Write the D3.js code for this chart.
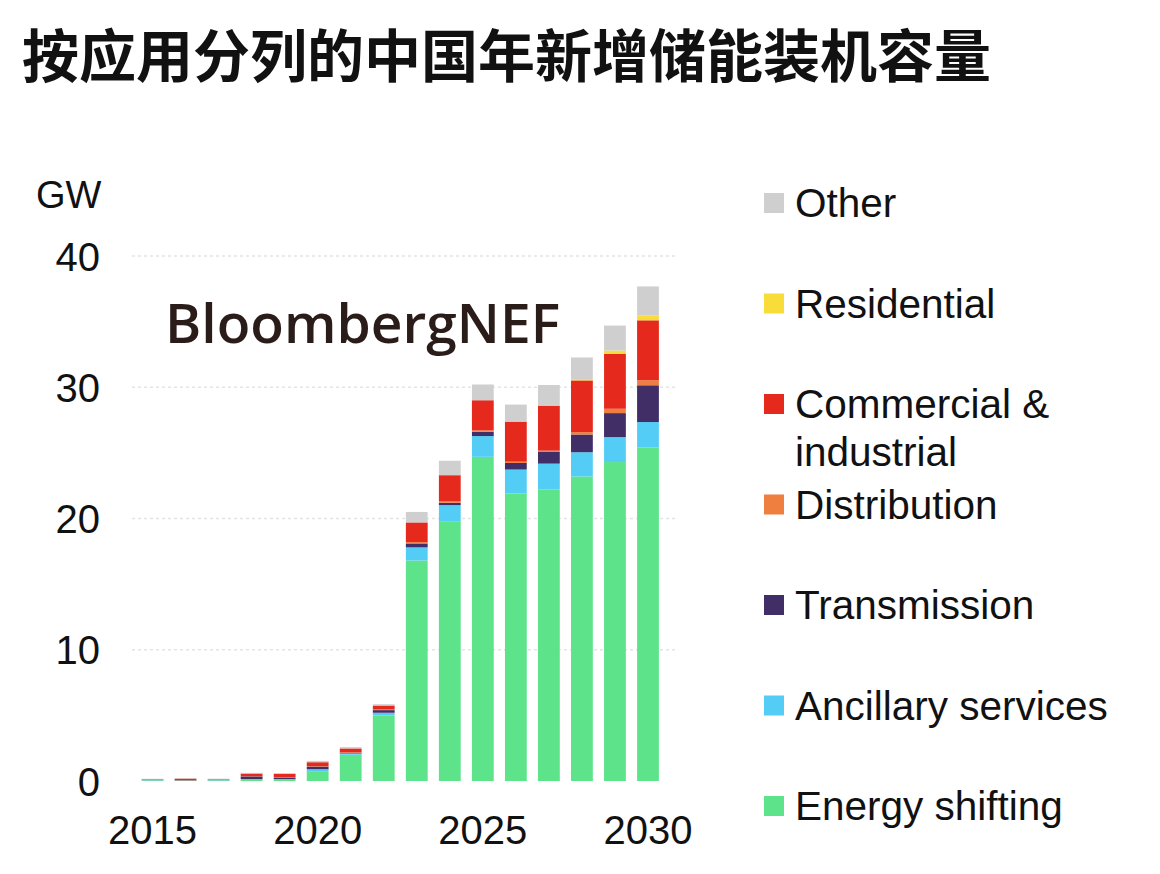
<!DOCTYPE html>
<html><head><meta charset="utf-8">
<script src="https://cdn.jsdelivr.net/npm/d3@7"></script>
<style>body{margin:0;background:#fff;} text{font-family:"Liberation Sans",Arial,sans-serif;}</style>
</head><body><svg id="c" width="1160" height="874"></svg>
<script>
const years = [2015,2016,2017,2018,2019,2020,2021,2022,2023,2024,2025,2026,2027,2028,2029,2030];
const energyShifting = [0.05,0.03,0.05,0.08,0.08,0.7,2.0,5.0,16.8,19.75,24.7,21.9,22.2,23.2,24.3,25.4];
const ancillary      = [0.02,0.01,0.02,0.07,0.07,0.2,0.1,0.2,1.0,1.27,1.58,1.83,1.98,1.85,1.9,1.95];
const transmission   = [0.02,0.02,0.02,0.2,0.1,0.2,0.05,0.2,0.3,0.18,0.33,0.5,0.89,1.35,1.83,2.8];
const distribution   = [0,0,0,0.02,0.02,0.03,0.03,0.05,0.1,0.1,0.1,0.1,0.1,0.18,0.33,0.38];
const commercial     = [0.04,0.12,0.04,0.2,0.28,0.3,0.3,0.3,1.5,2.0,2.3,3.05,3.43,3.94,4.19,4.57];
const residential    = [0,0,0,0,0,0,0,0,0,0,0,0,0.05,0.1,0.25,0.38];
const other          = [0.04,0.03,0.05,0.05,0.05,0.1,0.1,0.1,0.8,1.1,1.2,1.3,1.52,1.65,1.9,2.2];
const seriesNames = ["Energy shifting","Ancillary services","Transmission","Distribution","Commercial & industrial","Residential","Other"];
const seriesColors = ["#5de38a","#53cdf5","#412e67","#ef7f3f","#e52a1d","#f7dc3a","#cfcfcf"];
const yTicks = [0,10,20,30,40];
const xTickLabels = [2015,2020,2025,2030];

const seriesValues = [energyShifting,ancillary,transmission,distribution,commercial,residential,other];
const rows = years.map((y,i)=>{const r={year:y}; seriesNames.forEach((n,k)=>r[n]=seriesValues[k][i]); return r;});
const stack = d3.stack().keys(seriesNames)(rows);

const svg = d3.select("#c");
const x = d3.scaleBand().domain(years).range([136,664.5]).paddingInner(0.34).paddingOuter(0.17);
const y = d3.scaleLinear().domain([0,40]).range([781,256]);

// title
svg.append("text").attr("x",22).attr("y",52).attr("dominant-baseline","central")
  .style("font-family","'Noto Sans CJK SC',sans-serif").style("font-weight","700")
  .style("font-size","57px").attr("fill","#111").text("按应用分列的中国年新增储能装机容量");

// grid
svg.append("g").selectAll("line").data(yTicks.filter(t=>t>0)).join("line")
  .attr("x1",132).attr("x2",675).attr("y1",d=>y(d)).attr("y2",d=>y(d))
  .attr("stroke","#e4e4e4").attr("stroke-width",1.5).attr("stroke-dasharray","3,3");

// y axis labels
const yAxis = d3.axisLeft(y).tickValues(yTicks).tickSize(0).tickPadding(0);
const gy = svg.append("g").attr("transform","translate(100,0)").call(yAxis);
gy.select(".domain").remove();
gy.selectAll("text").style("font-size","40px").style("font-family","'Liberation Sans',Arial,sans-serif").attr("fill","#111").attr("dy","0.35em");

svg.append("text").attr("x",36).attr("y",195).attr("dominant-baseline","central")
  .style("font-size","38px").attr("fill","#111").text("GW");

// bars
svg.append("g").selectAll("g").data(stack).join("g").attr("fill",(d,i)=>seriesColors[i])
  .selectAll("rect").data(d=>d).join("rect")
  .attr("x",d=>x(d.data.year)).attr("width",x.bandwidth())
  .attr("y",d=>y(d[1])).attr("height",d=>Math.max(0,y(d[0])-y(d[1])));

// x axis labels
const xAxis = d3.axisBottom(x).tickValues(xTickLabels).tickSize(0).tickPadding(0);
const gx = svg.append("g").attr("transform","translate(0,830)").call(xAxis);
gx.select(".domain").remove();
gx.selectAll("text").style("font-size","40px").style("font-family","'Liberation Sans',Arial,sans-serif").attr("fill","#111").attr("dy","0.35em");

// logo
svg.append("text").attr("x",165).attr("y",322).attr("dominant-baseline","central")
  .style("font-family","'Open Sans',sans-serif").style("font-weight","600").style("font-size","54px")
  .attr("fill","#2a1c19").attr("textLength",395).attr("lengthAdjust","spacingAndGlyphs").text("BloombergNEF");

// legend
const legendOrder = [6,5,4,3,2,1,0];
const legendLabels = {4:["Commercial &","industrial"]};
const lg = svg.append("g");
legendOrder.forEach((k,j)=>{
  const cy = 203 + j*100.5;
  lg.append("rect").attr("x",764).attr("y",cy-10).attr("width",20).attr("height",20).attr("fill",seriesColors[k]);
  const lines = legendLabels[k] || [seriesNames[k]];
  lines.forEach((t,li)=>{
    lg.append("text").attr("x",795).attr("y",cy + li*48).attr("dominant-baseline","central")
      .style("font-size","40.5px").attr("fill","#111").text(t);
  });
});
</script></body></html>
